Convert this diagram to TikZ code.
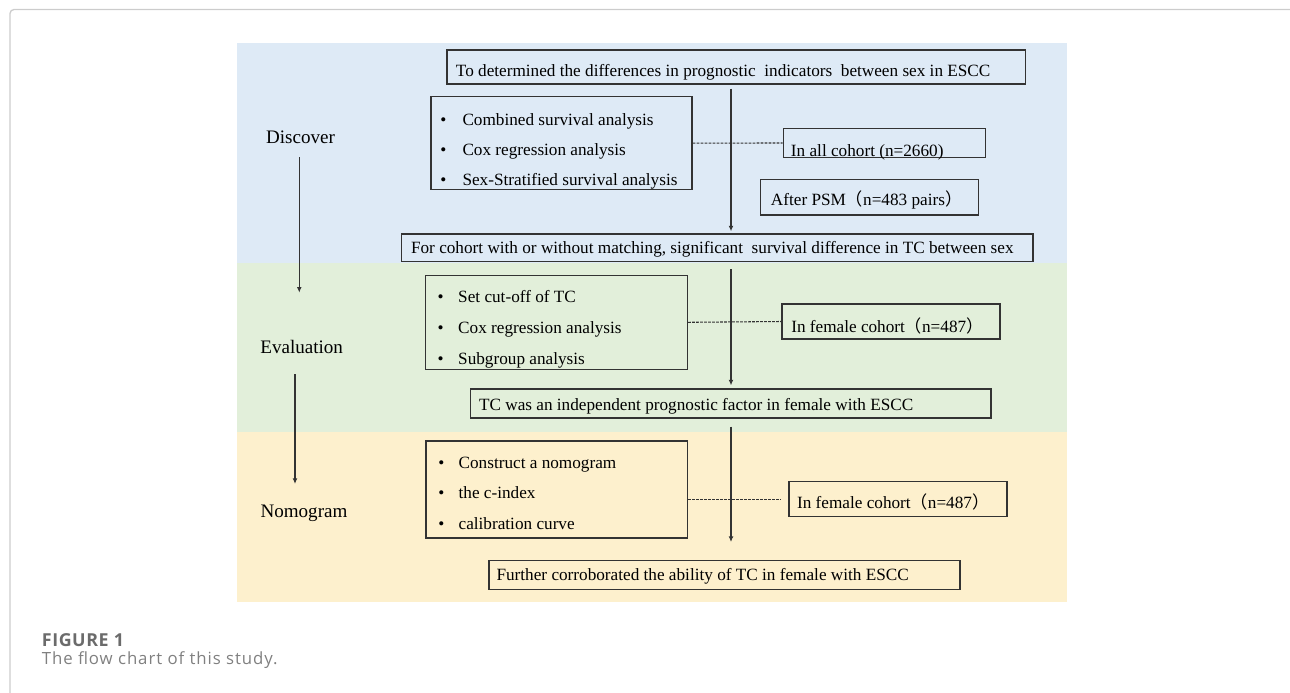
\documentclass[tikz,border=0pt]{standalone}
\usepackage{fontspec}
\setmainfont{Liberation Serif}
\newfontfamily\cjk{Noto Sans CJK SC}
\newfontfamily\capfont{Open Sans}
\newfontfamily\capfontA[LetterSpace=3]{Open Sans}
\newfontfamily\capfontB[LetterSpace=5.5]{Open Sans}
\usetikzlibrary{arrows.meta,fit}
\definecolor{blueband}{HTML}{DEEAF6}
\definecolor{greenband}{HTML}{E2EFDA}
\definecolor{yellowband}{HTML}{FDF0CD}
\definecolor{ink}{HTML}{333333}
\definecolor{framecol}{HTML}{CCCCCC}
\definecolor{capgray}{HTML}{6B6B6B}
\definecolor{subgray}{HTML}{808080}
\tikzset{
  box/.style={draw=ink, line width=0.95pt, inner sep=0pt},
  txt/.style={inner sep=0pt, anchor=base west, text=black, font=\fontsize{12.9pt}{15pt}\selectfont},
  lab/.style={inner sep=0pt, anchor=base, text=black, font=\fontsize{14.3pt}{17pt}\selectfont},
  arr/.style={draw=ink, line width=0.85pt, -{Latex[length=4.2pt,width=3.6pt]}},
  dashline/.style={draw=ink, line width=0.8pt, dash pattern=on 2pt off 1pt},
}
\newcommand{\bul}[1]{\makebox[#1][l]{\textbullet}}
\newcommand{\fwl}{{\cjk （}}
\newcommand{\fwr}{{\cjk ）}}
\begin{document}
\begin{tikzpicture}[x=0.75pt,y=-0.75pt]
\useasboundingbox (0,0) rectangle (1290,693);
% frame
\draw[framecol, line width=1pt, rounded corners=3pt] (10,693) -- (10,9.5) -- (1290,9.5);
% bands
\fill[blueband] (236.5,43) rectangle (1067,262.5);
\fill[greenband] (236.5,262.5) rectangle (1067,432);
\fill[yellowband] (236.5,432) rectangle (1067,602);
% boxes
\node[box, fit={(447,50)(1025.5,84)}] (b1) {};
\node[box, fit={(431,96.7)(692,189.5)}] (b2) {};
\node[box, fit={(783.3,128.3)(985.7,157.7)}] (b3) {};
\node[box, fit={(760.7,179.3)(978.3,215)}] (b4) {};
\node[box, fit={(401.7,234)(1033,261.7)}] (b5) {};
\node[box, fit={(425.7,275.3)(687.5,369.3)}] (b6) {};
\node[box, fit={(782,304)(1000,339)}] (b7) {};
\node[box, fit={(470.5,389)(991,418)}] (b8) {};
\node[box, fit={(426,441)(687.5,538)}] (b9) {};
\node[box, fit={(789,481.7)(1007,516.7)}] (b10) {};
\node[box, fit={(489,560.7)(960,589.3)}] (b11) {};
% texts
\node[txt] (t1) at (455.7,76.7) {To determined the differences in prognostic\ \ indicators\ \ between sex in ESCC};
\node[txt] (t2a) at (440,125) {\bul{16.7pt}Combined survival analysis};
\node[txt] (t2b) at (440,155) {\bul{16.7pt}Cox regression analysis};
\node[txt] (t2c) at (440,185) {\bul{16.7pt}Sex-Stratified survival analysis};
\node[txt] (t3) at (790.7,156) {In all cohort (n=2660)};
\node[txt] (t4) at (770.7,205) {After PSM\fwl n=483 pairs\fwr};
\node[txt] (t5) at (410.8,253.3) {For cohort with or without matching, significant\ \ survival difference in TC between sex};
\node[txt] (t6a) at (437.3,302.7) {\bul{15.5pt}Set cut-off of TC};
\node[txt] (t6b) at (437.3,333.3) {\bul{15.5pt}Cox regression analysis};
\node[txt] (t6c) at (437.3,364.3) {\bul{15.5pt}Subgroup analysis};
\node[txt] (t7) at (791,332.7) {In female cohort\fwl n=487\fwr};
\node[txt] (t8) at (478.8,410.7) {TC was an independent prognostic factor in female with ESCC};
\node[txt] (t9a) at (438,468.3) {\bul{15.3pt}Construct a nomogram};
\node[txt] (t9b) at (438,498.3) {\bul{15.3pt}the c-index};
\node[txt] (t9c) at (438,529.3) {\bul{15.3pt}calibration curve};
\node[txt] (t10) at (796.8,508.3) {In female cohort\fwl n=487\fwr};
\node[txt] (t11) at (496.3,580) {Further corroborated the ability of TC in female with ESCC};
% stage labels
\node[lab] (l1) at (300.5,143.3) {Discover};
\node[lab] (l2) at (301.7,353.3) {Evaluation};
\node[lab] (l3) at (304,517.3) {Nomogram};
% main arrows
\coordinate (ax) at (731,0);
\draw[arr, shorten <=3pt, shorten >=1.5pt] (b1.south -| ax) -- (b5.north -| ax);
\draw[arr, shorten <=5.2pt, shorten >=2.2pt] (b5.south -| ax) -- (b8.north -| ax);
\draw[arr, shorten <=6pt, shorten >=13.5pt] (b8.south -| ax) -- (b11.north -| ax);
% dashed connectors
\draw[dashline] (b2.east) -- (b3.west);
\draw[dashline] (b6.east) -- (b7.west);
\draw[dashline, shorten >=5.5pt] (b10.west -| b9.east) -- (b10.west);
% stage arrows
\coordinate (s1a) at (299.3,157);
\coordinate (s1b) at (299.3,292.7);
\coordinate (s2a) at (295,374);
\coordinate (s2b) at (295,484);
\draw[arr] (s1a) -- (s1b);
\draw[arr] (s2a) -- (s2b);
% caption
\node[inner sep=0pt, anchor=base west, text=capgray, font=\capfontA\bfseries\fontsize{13.4pt}{15pt}\selectfont] (cap1) at (41.7,646) {FIGURE 1};
\node[inner sep=0pt, anchor=base west, text=subgray, font=\capfontB\fontsize{12.6pt}{15pt}\selectfont] (cap2) at (41.7,664.3) {The flow chart of this study.};
\end{tikzpicture}
\end{document}
